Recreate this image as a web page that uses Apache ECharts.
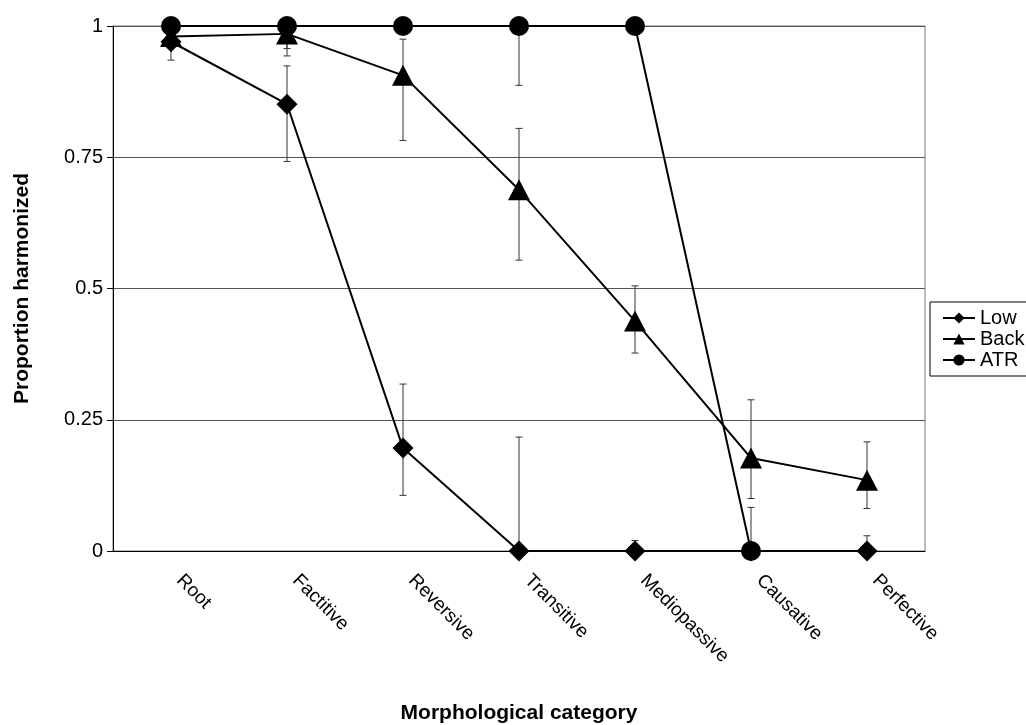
<!DOCTYPE html>
<html>
<head>
<meta charset="utf-8">
<script src="https://cdn.jsdelivr.net/npm/echarts@6/dist/echarts.min.js"></script>
<style>html,body{margin:0;padding:0;background:#fff;}#chart{width:1026px;height:725px;}</style>
</head>
<body>
<div id="chart"></div>
<script>
const categories = ['Root', 'Factitive', 'Reversive', 'Transitive', 'Mediopassive', 'Causative', 'Perfective'];
const yTicks = [0, 0.25, 0.5, 0.75, 1];

const lowValues  = [0.970, 0.851, 0.196, 0, 0, 0, 0];
const lowLower   = [0.935, 0.742, 0.106, 0, 0, 0, 0];
const lowUpper   = [0.990, 0.924, 0.318, 0.217, 0.020, 0.083, 0.029];

const backValues = [0.980, 0.985, 0.906, 0.688, 0.438, 0.177, 0.135];
const backLower  = [0.960, 0.943, 0.782, 0.554, 0.377, 0.100, 0.081];
const backUpper  = [0.995, 1.000, 0.975, 0.805, 0.505, 0.288, 0.208];

const atrValues  = [1, 1, 1, 1, 1, 0, null];
const atrLower   = [1, 0.957, 1, 0.887, 1, 0, null];
const atrUpper   = [1, 1, 1, 1, 1, 0, null];

const FONT = '"Liberation Sans", Arial, sans-serif';

function errorData(lower, upper) {
  return categories.map((c, i) => (lower[i] == null ? [i, null, null] : [i, lower[i], upper[i]]));
}

function renderError(params, api) {
  const lo = api.value(1), hi = api.value(2);
  if (lo == null || hi == null || isNaN(lo) || isNaN(hi) || Math.abs(hi - lo) < 1e-6) return null;
  const x = api.value(0);
  const p1 = api.coord([x, hi]);
  const p2 = api.coord([x, lo]);
  const hw = 3.5;
  const style = { stroke: '#333', lineWidth: 1 };
  return {
    type: 'group',
    children: [
      { type: 'line', shape: { x1: p1[0], y1: p1[1], x2: p2[0], y2: p2[1] }, style },
      { type: 'line', shape: { x1: p1[0] - hw, y1: p1[1], x2: p1[0] + hw, y2: p1[1] }, style },
      { type: 'line', shape: { x1: p2[0] - hw, y1: p2[1], x2: p2[0] + hw, y2: p2[1] }, style }
    ]
  };
}

function errSeries(lower, upper, z) {
  return {
    type: 'custom',
    renderItem: renderError,
    data: errorData(lower, upper),
    encode: { x: 0, y: [1, 2] },
    z: z,
    silent: true,
    clip: false
  };
}

const chart = echarts.init(document.getElementById('chart'), null, { renderer: 'canvas' });
chart.setOption({
  animation: false,
  backgroundColor: '#fff',
  textStyle: { fontFamily: FONT },
  grid: { left: 113, right: 101, top: 26, bottom: 174, show: true, borderColor: '#777', borderWidth: 1, containLabel: false, outerBoundsMode: 'none' },
  legend: {
    left: 930, top: 302,
    orient: 'vertical',
    data: ['Low', 'Back', 'ATR'],
    borderColor: '#000', borderWidth: 1,
    padding: [6, 8, 6, 12],
    itemWidth: 32, itemHeight: 14, itemGap: 1,
    textStyle: { fontFamily: FONT, fontSize: 20, lineHeight: 20, color: '#000' }
  },
  xAxis: {
    type: 'category',
    data: categories,
    boundaryGap: true,
    axisLine: { lineStyle: { color: '#000', width: 1 } },
    axisTick: { show: false },
    axisLabel: { rotate: -45, fontSize: 19, color: '#000', fontFamily: FONT, margin: 18, padding: [0, 0, 0, 12] },
    name: 'Morphological category',
    nameLocation: 'middle',
    nameGap: 152,
    nameTextStyle: { fontSize: 21, fontWeight: 'bold', color: '#000', fontFamily: FONT }
  },
  yAxis: {
    type: 'value',
    min: 0, max: 1, interval: 0.25,
    axisLine: { show: true, lineStyle: { color: '#000', width: 1 } },
    axisTick: { show: true, length: 6, lineStyle: { color: '#000' } },
    axisLabel: {
      fontSize: 20, color: '#000', fontFamily: FONT, margin: 10,
      formatter: v => { const t = yTicks.find(k => Math.abs(k - v) < 1e-9); return t == null ? '' : String(t); }
    },
    splitLine: { show: true, lineStyle: { color: '#555', width: 1 } },
    name: 'Proportion harmonized',
    nameLocation: 'middle',
    nameGap: 80,
    nameRotate: 90,
    nameTextStyle: { fontSize: 21, fontWeight: 'bold', color: '#000', fontFamily: FONT }
  },
  series: [
    errSeries(lowLower, lowUpper, 1),
    errSeries(backLower, backUpper, 1),
    errSeries(atrLower, atrUpper, 1),
    {
      name: 'Low', type: 'line', data: lowValues,
      symbol: 'diamond', symbolSize: 21,
      lineStyle: { color: '#000', width: 2 }, itemStyle: { color: '#000' },
      z: 3, clip: false
    },
    {
      name: 'Back', type: 'line', data: backValues,
      symbol: 'triangle', symbolSize: [22, 21],
      lineStyle: { color: '#000', width: 2 }, itemStyle: { color: '#000' },
      z: 4, clip: false
    },
    {
      name: 'ATR', type: 'line', data: atrValues,
      symbol: 'circle', symbolSize: 20, connectNulls: false,
      lineStyle: { color: '#000', width: 2 }, itemStyle: { color: '#000' },
      z: 5, clip: false
    }
  ]
});
</script>
</body>
</html>
